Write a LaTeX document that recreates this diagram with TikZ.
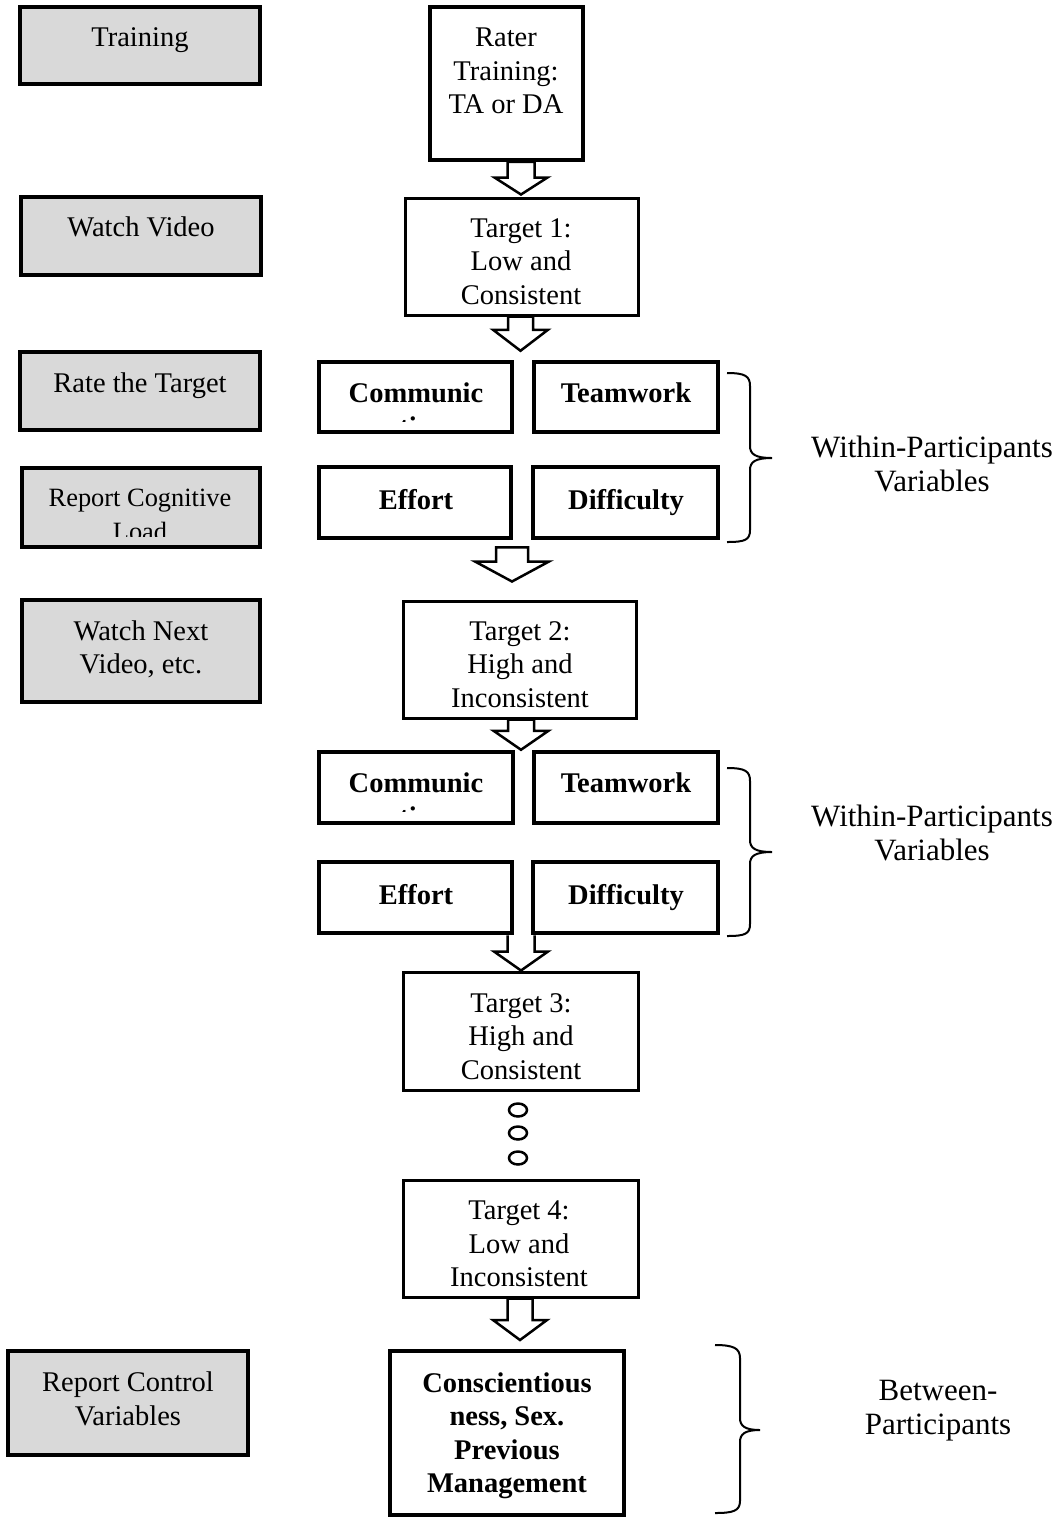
\documentclass[tikz,border=0pt]{standalone}
\usepackage{fontspec}
\setmainfont{Liberation Serif}
\usetikzlibrary{calc,fit,shapes.geometric}
\definecolor{boxgray}{RGB}{217,217,217}
\newcommand{\blockarrowdraw}[7]{%
  \draw[blockarr] let \p1=(#1), \p2=(#2), \p3=(#3,0) in
   (\x3+#4*0.5pt,\y1) -- (\x3+#4*0.5pt,\y2+#6*0.5pt) -- (\x3+#5*0.5pt,\y2+#6*0.5pt)
   -- (\x3,\y2) -- (\x3-#5*0.5pt,\y2+#6*0.5pt) -- (\x3-#4*0.5pt,\y2+#6*0.5pt)
   -- (\x3-#4*0.5pt,\y1) #7;}
\tikzset{
  graybox/.style={draw, line width=1.75pt, fill=boxgray, inner sep=0pt},
  rbox/.style={draw, line width=1.75pt, fill=white, inner sep=0pt},
  tbox/.style={draw, line width=1.5pt, fill=white, inner sep=0pt},
  bbox/.style={draw, line width=2.25pt, fill=white, inner sep=0pt},
  cbox/.style={draw, line width=2pt, fill=white, inner sep=0pt},
  txt/.style={align=center, inner sep=0pt, font=\fontsize{14.25}{16.75}\selectfont},
  btxt/.style={align=center, inner sep=0pt, font=\fontsize{14.25}{16.75}\selectfont\bfseries},
  stxt/.style={align=center, inner sep=0pt, font=\fontsize{13.2}{16.75}\selectfont},
  side/.style={align=center, inner sep=0pt, font=\fontsize{15.5}{17}\selectfont},
  brace/.style={line width=1pt},
  blockarr/.style={draw, line width=1.25pt, fill=white, line join=miter},
  dotc/.style={draw, ellipse, line width=1.25pt, minimum width=9pt, minimum height=6.5pt, inner sep=0pt}
}
\begin{document}
\begin{tikzpicture}[x=0.5pt,y=-0.5pt]
\useasboundingbox (0,0) rectangle (1063,1517);
% boxes
\node[graybox, fit={(20,7) (260,84)}] (gTrain) {};
\node[rbox, fit={(430,7) (583,160)}] (rater) {};
\node[graybox, fit={(21,197) (261,275)}] (gWatch) {};
\node[tbox, fit={(405,198) (638,315)}] (t1) {};
\node[graybox, fit={(20,352) (260,430)}] (gRate) {};
\node[bbox, fit={(319,362) (512,432)}] (comm1) {};
\node[bbox, fit={(534,362) (718,432)}] (team1) {};
\node[graybox, fit={(22,468) (260,547)}] (gCog) {};
\node[bbox, fit={(319,467) (511,538)}] (eff1) {};
\node[bbox, fit={(533,467) (718,538)}] (diff1) {};
\node[graybox, fit={(22,600) (260,702)}] (gNext) {};
\node[tbox, fit={(403,601) (636,718)}] (t2) {};
\node[bbox, fit={(319,752) (513,823)}] (comm2) {};
\node[bbox, fit={(534,752) (718,823)}] (team2) {};
\node[bbox, fit={(319,862) (512,933)}] (eff2) {};
\node[bbox, fit={(533,862) (718,933)}] (diff2) {};
\node[tbox, fit={(403,972) (638,1090)}] (t3) {};
\node[tbox, fit={(403,1180) (638,1297)}] (t4) {};
\node[graybox, fit={(8,1351) (248,1455)}] (gCtrl) {};
\node[cbox, fit={(390,1351) (624,1515)}] (consc) {};
% block arrows
\blockarrowdraw{rater.south}{[yshift=1pt]t1.north}{521}{13.5}{26.5}{17}{-- cycle}
\blockarrowdraw{t1.south}{[yshift=4.5pt]comm1.north}{520.5}{12.5}{27.5}{21}{-- cycle}
\blockarrowdraw{[yshift=-3.5pt]eff1.south}{[yshift=9pt]t2.north}{512}{16}{37}{20}{-- cycle}
\blockarrowdraw{t2.south}{comm2.north}{521}{13}{27.5}{19}{-- cycle}
\blockarrowdraw{eff2.south}{t3.north}{521}{13.5}{27}{19}{}
\blockarrowdraw{t4.south}{[yshift=4.5pt]consc.north}{520}{12.5}{27}{20}{-- cycle}
% dots
\node[dotc] (d1) at (518,1110) {};
\node[dotc] (d2) at (518,1133) {};
\node[dotc] (d3) at (518,1158) {};
% texts
\node[txt] (trainT) at (140,40) {\strut Training};
\node[txt] (raterT) at (506,73.5) {\strut Rater\\\strut Training:\\\strut TA or DA};
\node[txt] (watchT) at (141,230) {\strut Watch Video};
\node[txt] (t1T) at (521,264) {\strut Target 1:\\\strut Low and\\\strut Consistent};
\node[txt] (rateT) at (140,386) {\strut Rate the Target};
\begin{scope}
  \clip (319,362) rectangle (512,421);
  \node[btxt] (comm1T) at (416,412.75) {\strut Communic\\\strut ation};
\end{scope}
\node[btxt] (team1T) at (626,396) {\strut Teamwork};
\begin{scope}
  \clip (22,468) rectangle (260,536);
  \node[stxt] (cogT) at (140,516.75) {\strut Report Cognitive\\\strut Load};
\end{scope}
\node[btxt] (eff1T) at (416,503) {\strut Effort};
\node[btxt] (diff1T) at (626,503) {\strut Difficulty};
\node[side] (within1) at (932,468) {\strut Within-Participants\\\strut Variables};
\node[txt] (nextT) at (141,650.5) {\strut Watch Next\\\strut Video, etc.};
\node[txt] (t2T) at (520,667) {\strut Target 2:\\\strut High and\\\strut Inconsistent};
\begin{scope}
  \clip (319,752) rectangle (513,811);
  \node[btxt] (comm2T) at (416,802.75) {\strut Communic\\\strut ation};
\end{scope}
\node[btxt] (team2T) at (626,786) {\strut Teamwork};
\node[btxt] (eff2T) at (416,898) {\strut Effort};
\node[btxt] (diff2T) at (626,898) {\strut Difficulty};
\node[side] (within2) at (932,836.5) {\strut Within-Participants\\\strut Variables};
\node[txt] (t3T) at (521,1039) {\strut Target 3:\\\strut High and\\\strut Consistent};
\node[txt] (t4T) at (519,1246.5) {\strut Target 4:\\\strut Low and\\\strut Inconsistent};
\node[txt] (ctrlT) at (128,1402) {\strut Report Control\\\strut Variables};
\node[btxt] (conscT) at (507,1436) {\strut Conscientious\\\strut ness, Sex.\\\strut Previous\\\strut Management};
\node[side] (between) at (938,1410.5) {\strut Between-\\\strut Participants};
% braces
\draw[brace] (727,373) .. controls (745,373) and (750,376) .. (750,386) -- (750,446)
  .. controls (750,454) and (755,458) .. (772,458)
  .. controls (755,458) and (750,462) .. (750,470) -- (750,530)
  .. controls (750,540) and (745,542) .. (727,542);
\draw[brace] (727,768) .. controls (745,768) and (750,771) .. (750,781) -- (750,840)
  .. controls (750,848) and (755,852) .. (772,852)
  .. controls (755,852) and (750,856) .. (750,864) -- (750,924)
  .. controls (750,934) and (745,936) .. (727,936);
\draw[brace] (715,1345) .. controls (733,1345) and (740,1348) .. (740,1358) -- (740,1418)
  .. controls (740,1426) and (745,1430) .. (760,1430)
  .. controls (745,1430) and (740,1434) .. (740,1442) -- (740,1501)
  .. controls (740,1511) and (733,1513) .. (715,1513);
\end{tikzpicture}
\end{document}
